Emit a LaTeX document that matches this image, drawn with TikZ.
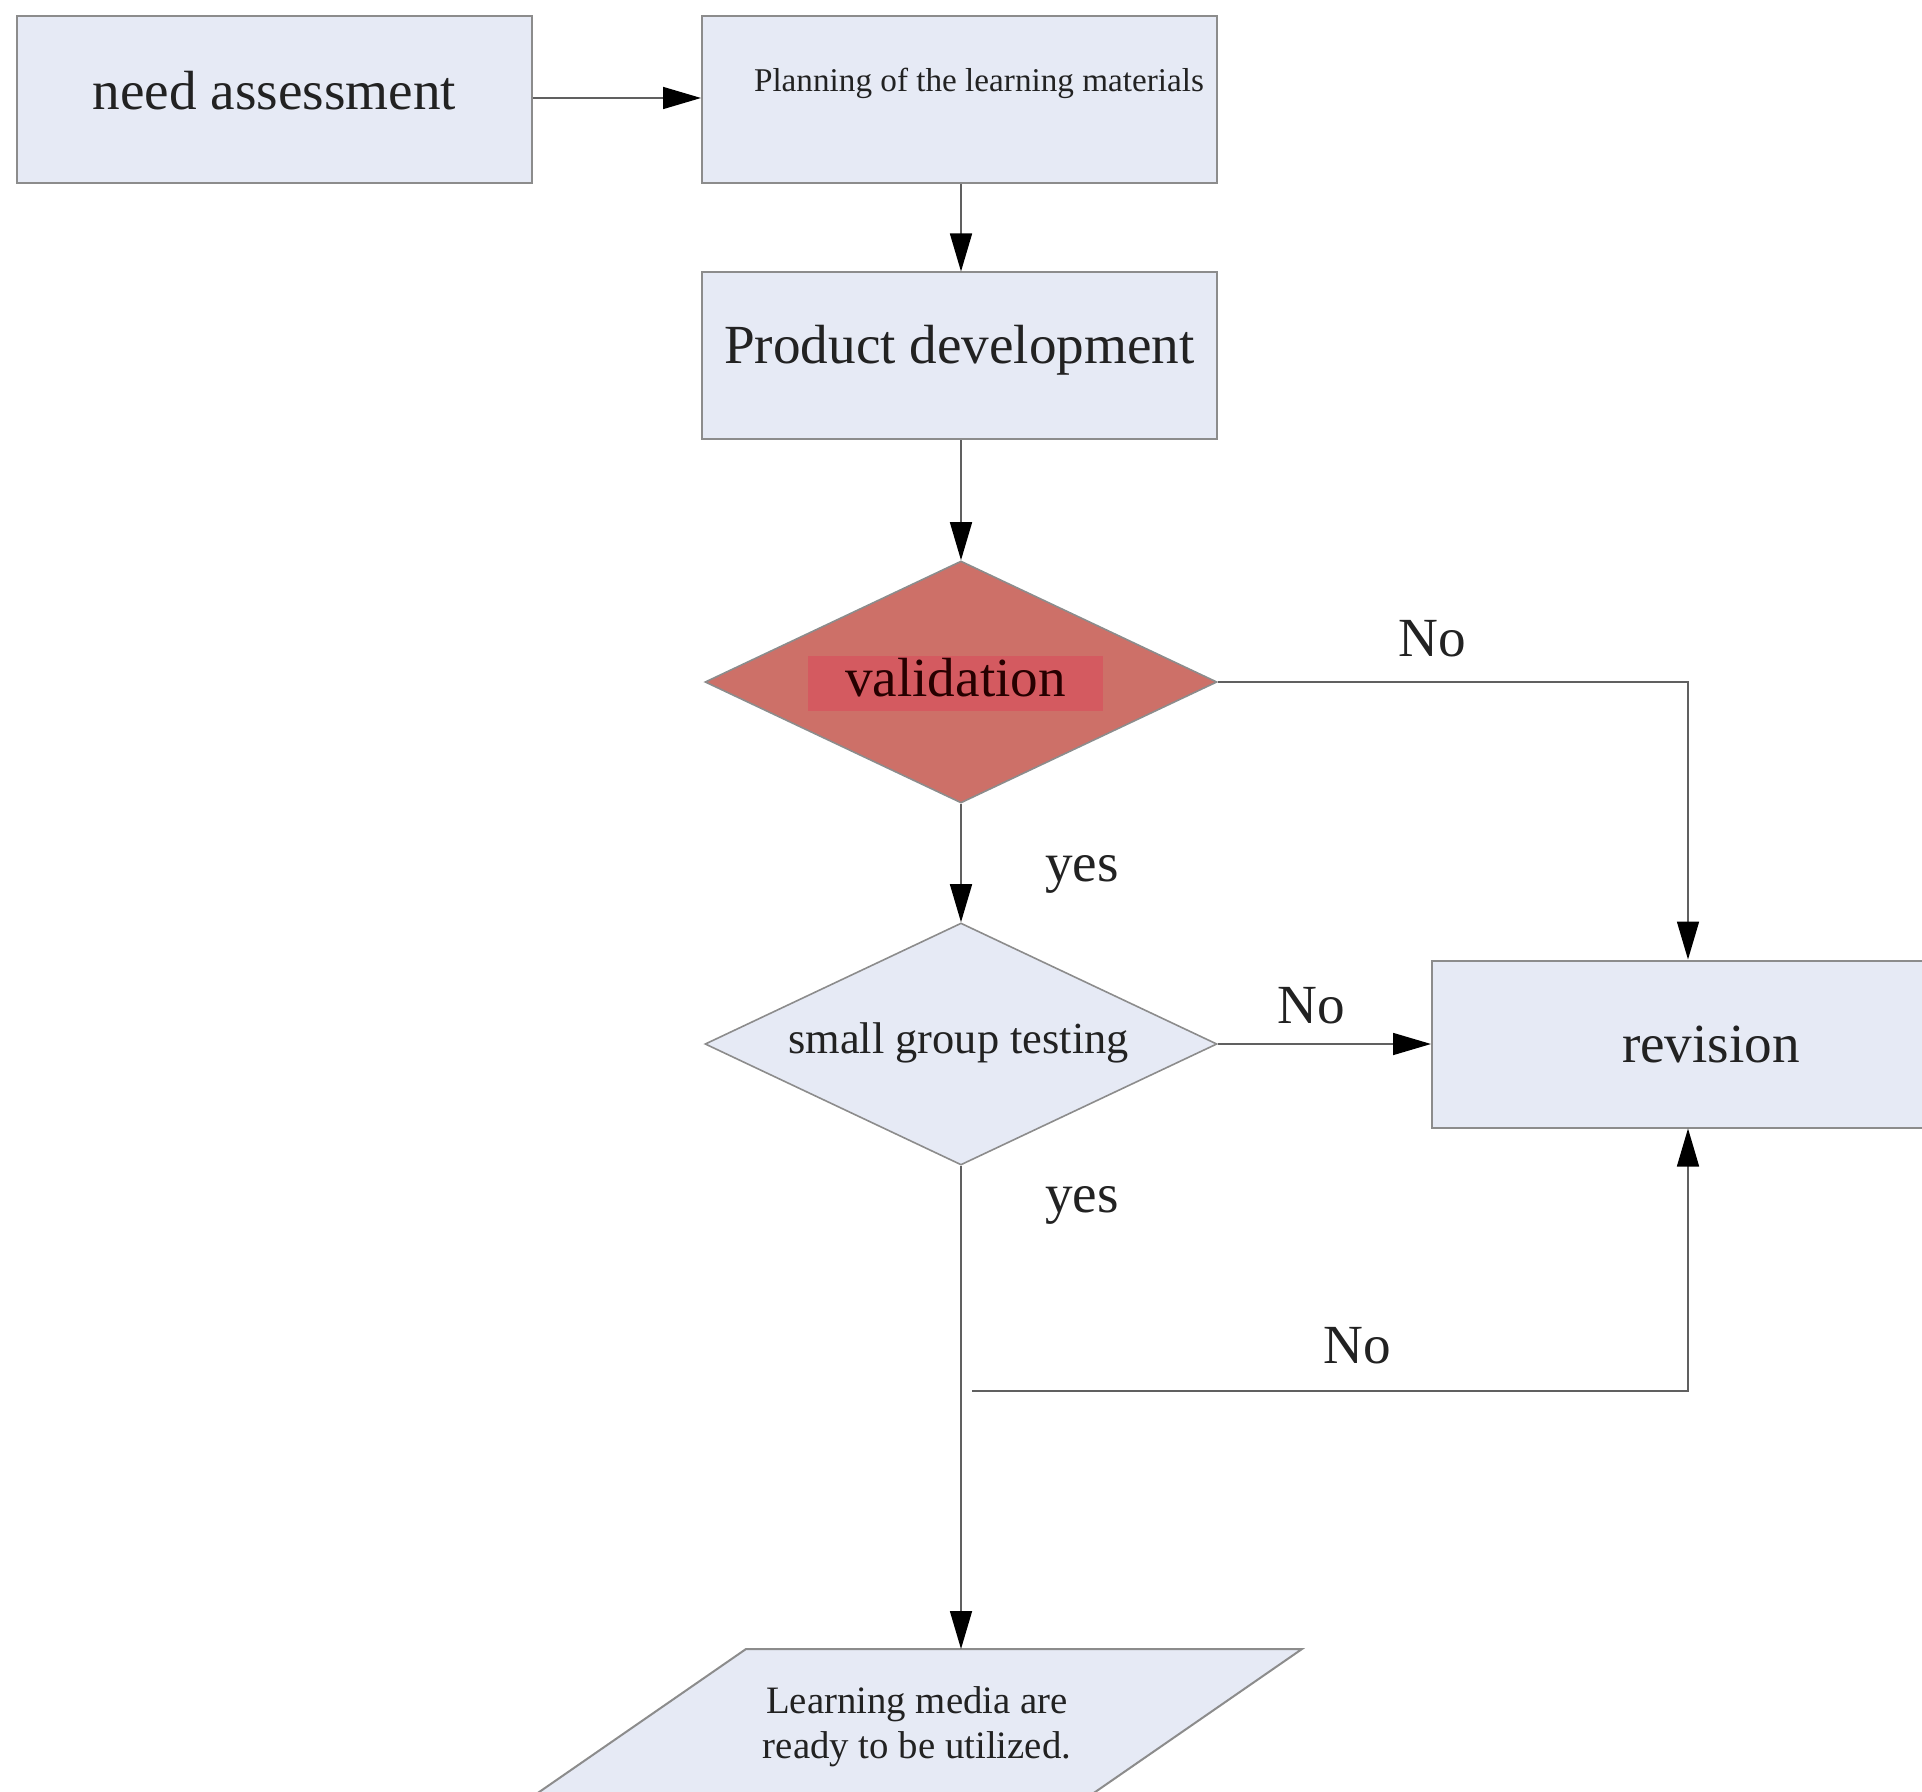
\documentclass[tikz,border=0pt]{standalone}
\usepackage{fontspec}
\setmainfont{Liberation Serif}
\usetikzlibrary{shapes.geometric,arrows.meta}
\definecolor{boxfill}{HTML}{E6EAF5}
\definecolor{boxline}{HTML}{8C8C8C}
\definecolor{valfill}{HTML}{CD7068}
\definecolor{valinner}{HTML}{D45A60}
\definecolor{linecol}{HTML}{606060}
\definecolor{txt}{HTML}{222222}
\tikzset{
  box/.style={draw=boxline, line width=1pt, fill=boxfill, minimum width=257.5pt, minimum height=83.5pt, inner sep=0pt, text=txt, font=\fontsize{27.6}{32}\selectfont},
  dia/.style={diamond, draw=boxline, line width=0.8pt, minimum width=256pt, minimum height=121pt, inner sep=0pt},
  big/.style={font=\fontsize{27.6}{32}\selectfont, text=txt, inner sep=0pt},
  conn/.style={draw=linecol, line width=0.8pt, -{Triangle[length=19pt,width=11pt,color=black]}},
  plain/.style={draw=linecol, line width=0.8pt}
}
\begin{document}
\begin{tikzpicture}[x=0.5pt,y=-0.5pt]
\useasboundingbox (0,0) rectangle (1922,1792);
% boxes
\node[box, text depth=9.2pt] (need) at (274.5,99.5) {need assessment};
\node[box] (plan) at (959.5,99.5) {};
\node[font=\fontsize{16.6}{20}\selectfont, text=txt, inner sep=0pt] (plantext) at (979,83) {Planning of the learning materials};
\node[box, text depth=12pt] (prod) at (959.5,356) {Product development};
\node[dia, fill=valfill] (val) at (961,682) {};
\node[big, fill=valinner, minimum width=147.5pt, minimum height=27.5pt, text depth=6pt, text=black!85!red] (valtext) at (955.5,683.5) {validation};
\node[dia, fill=boxfill] (sgt) at (961,1044) {};
\node[font=\fontsize{22.2}{26}\selectfont, text=txt, inner sep=0pt] (sgttext) at (958.6,1043) {small group testing};
\node[box, minimum width=279pt] (rev) at (1711,1044) {revision};
% output parallelogram
\path[draw=boxline, line width=1pt, fill=boxfill] (746,1649) -- (1302,1649) -- (939,1900) -- (383,1900) -- cycle;
\coordinate (outtop) at (961,1649);
\node[font=\fontsize{19.4}{22.7}\selectfont, text=txt, align=center, inner sep=0pt] (out) at (917,1727) {Learning media are\\ready to be utilized.};
% connectors
\draw[conn] (need.east |- 0,98) -- (plan.west |- 0,98);
\draw[conn] (plan.south -| val.north) -- (prod.north -| val.north);
\draw[conn] (prod.south -| val.north) -- (val.north);
\draw[conn] (val.south) -- (sgt.north);
\coordinate (c1) at (1688,682);
\draw[conn] (val.east) -- (c1) -- (c1 |- rev.north);
\draw[conn] (sgt.east) -- (rev.west);
\draw[conn] (sgt.south) -- (outtop);
\coordinate (c2) at (972,1391);
\coordinate (c3) at (1688,1391);
\draw[conn] (c2) -- (c3) -- (c3 |- rev.south);
% labels
\node[big] (no1) at (1432,639) {No};
\node[big] (no2) at (1311.6,1006) {No};
\node[big] (no3) at (1357,1346) {No};
\node[big] (yes1) at (1082,874) {yes};
\node[big] (yes2) at (1082,1205) {yes};
\end{tikzpicture}
\end{document}
